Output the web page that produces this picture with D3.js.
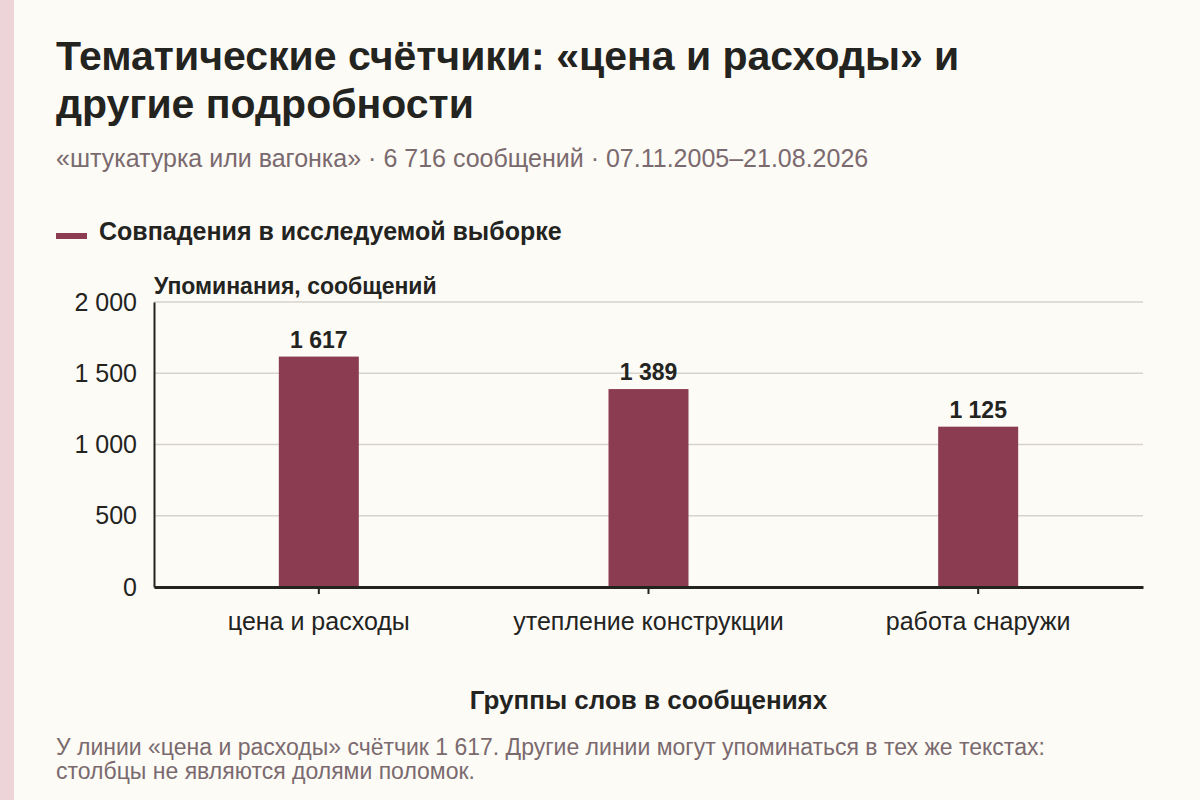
<!DOCTYPE html>
<html>
<head>
<meta charset="utf-8">
<script src="https://cdn.jsdelivr.net/npm/d3@7"></script>
<style>
  html, body { margin: 0; padding: 0; background: #fdfbf5; }
  svg { display: block; font-family: "Liberation Sans", Arial, sans-serif; }
</style>
</head>
<body>
<svg id="chart"></svg>
<script>
const categories = ['цена и расходы', 'утепление конструкции', 'работа снаружи'];
const mentions = [1617, 1389, 1125];
const yTicks = [0, 500, 1000, 1500, 2000];

const W = 1200, H = 800;
const margin = { left: 154, right: 57, top: 302, bottom: 213 };
const fmt = v => d3.format(',')(v).replace(/,/g, ' ');

const svg = d3.select('#chart')
  .attr('width', W)
  .attr('height', H);

svg.append('rect')
  .attr('width', W).attr('height', H)
  .attr('fill', '#fdfbf5');

// pink strip on the left
svg.append('rect')
  .attr('x', 0).attr('y', 0)
  .attr('width', 14).attr('height', H)
  .attr('fill', '#ecd4d9');

// title + subtitle
const title = svg.append('text')
  .attr('font-size', 41)
  .attr('font-weight', 'bold')
  .attr('fill', '#23231f');
title.append('tspan').attr('x', 56).attr('y', 70).text('Тематические счётчики: «цена и расходы» и');
title.append('tspan').attr('x', 56).attr('y', 118).text('другие подробности');

svg.append('text')
  .attr('x', 56).attr('y', 167)
  .attr('font-size', 25)
  .attr('fill', '#7a6a6f')
  .text('«штукатурка или вагонка» · 6 716 сообщений · 07.11.2005–21.08.2026');

// legend
svg.append('rect')
  .attr('x', 56).attr('y', 233)
  .attr('width', 31).attr('height', 6)
  .attr('fill', '#8b3c51');
svg.append('text')
  .attr('x', 99).attr('y', 240)
  .attr('font-size', 25)
  .attr('font-weight', 'bold')
  .attr('fill', '#23231f')
  .text('Совпадения в исследуемой выборке');

const x = d3.scaleBand()
  .domain(categories)
  .range([margin.left, W - margin.right])
  .padding(0);

const y = d3.scaleLinear()
  .domain([0, 2000])
  .range([H - margin.bottom, margin.top]);

// gridlines
svg.append('g')
  .selectAll('line')
  .data(yTicks.filter(d => d > 0))
  .enter()
  .append('line')
  .attr('x1', margin.left)
  .attr('x2', W - margin.right)
  .attr('y1', d => y(d))
  .attr('y2', d => y(d))
  .attr('stroke', '#d6d3cc')
  .attr('stroke-width', 1.5);

// y axis
const yAxis = d3.axisLeft(y).tickValues(yTicks).tickFormat(fmt).tickSize(0).tickPadding(17);
const gy = svg.append('g')
  .attr('transform', `translate(${margin.left},0)`)
  .call(yAxis);
gy.select('.domain').attr('stroke', '#23231f').attr('stroke-width', 2);
gy.selectAll('text')
  .attr('font-size', 25)
  .attr('fill', '#23231f')
  .attr('font-family', '"Liberation Sans", Arial, sans-serif');

svg.append('text')
  .attr('x', margin.left).attr('y', 294)
  .attr('font-size', 23)
  .attr('font-weight', 'bold')
  .attr('fill', '#23231f')
  .text('Упоминания, сообщений');

// bars
const barW = 80;
svg.append('g')
  .selectAll('rect')
  .data(mentions)
  .enter()
  .append('rect')
  .attr('x', (d, i) => x(categories[i]) + x.bandwidth() / 2 - barW / 2)
  .attr('y', d => y(d))
  .attr('width', barW)
  .attr('height', d => y(0) - y(d))
  .attr('fill', '#8b3c51');

svg.append('g')
  .selectAll('text')
  .data(mentions)
  .enter()
  .append('text')
  .attr('x', (d, i) => x(categories[i]) + x.bandwidth() / 2)
  .attr('y', d => y(d) - 9)
  .attr('text-anchor', 'middle')
  .attr('font-size', 23)
  .attr('font-weight', 'bold')
  .attr('fill', '#23231f')
  .text(fmt);

// x axis
const xAxis = d3.axisBottom(x).tickSize(7).tickPadding(0).tickSizeOuter(0);
const gx = svg.append('g')
  .attr('transform', `translate(0,${y(0)})`)
  .call(xAxis);
gx.select('.domain').attr('stroke', '#23231f').attr('stroke-width', 3);
gx.selectAll('.tick line').attr('stroke', '#23231f').attr('stroke-width', 2);
gx.selectAll('text')
  .attr('y', 43)
  .attr('dy', null)
  .attr('font-size', 25)
  .attr('fill', '#23231f')
  .attr('font-family', '"Liberation Sans", Arial, sans-serif');

svg.append('text')
  .attr('x', (margin.left + W - margin.right) / 2)
  .attr('y', 709)
  .attr('text-anchor', 'middle')
  .attr('font-size', 26)
  .attr('font-weight', 'bold')
  .attr('fill', '#23231f')
  .text('Группы слов в сообщениях');

// footnote
const note = svg.append('text')
  .attr('font-size', 23)
  .attr('fill', '#7a6a6f');
note.append('tspan').attr('x', 56).attr('y', 755)
  .text('У линии «цена и расходы» счётчик 1 617. Другие линии могут упоминаться в тех же текстах:');
note.append('tspan').attr('x', 56).attr('y', 779)
  .text('столбцы не являются долями поломок.');
</script>
</body>
</html>
